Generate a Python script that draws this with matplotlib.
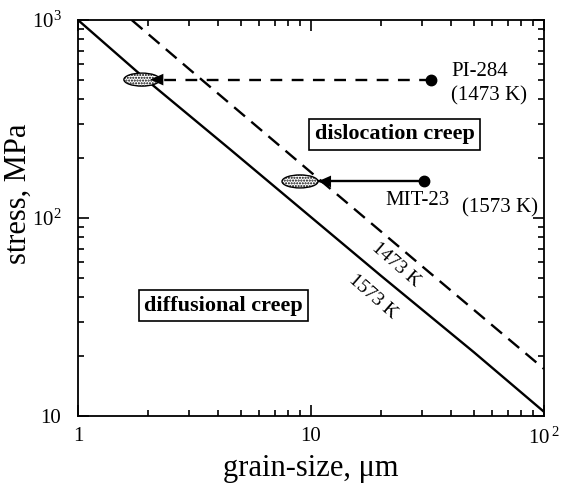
import matplotlib
matplotlib.use('Agg')
import matplotlib.pyplot as plt
from matplotlib.patches import Ellipse
from matplotlib.transforms import ScaledTranslation
from matplotlib.ticker import LogLocator, FixedLocator, FixedFormatter, NullFormatter

plt.rcParams['font.family'] = ['Liberation Serif', 'DejaVu Serif']
plt.rcParams['mathtext.fontset'] = 'custom'
plt.rcParams['mathtext.rm'] = 'Liberation Serif'
plt.rcParams['hatch.linewidth'] = 1.0

d_1573 = [1.0, 2.0, 4.5, 10.0, 20.0, 50.0, 100.0]
s_1573 = [1000, 490, 222, 101, 51, 21, 10.5]
d_1473 = [1.7, 3.0, 10.0, 30.0, 100.0]
s_1473 = [1000, 565, 170, 57, 17.3]

# samples: measured point -> inferred grain size (ellipse)
samples = ['PI-284', 'MIT-23']
start_d = [32.6, 30.5]
end_d = [1.88, 8.97]
tip_d = [2.04, 10.7]
stress = [500, 153]
styles = ['--', '-']

x_ticks = [1, 10, 100]
x_labels = ['1', '10', r'$\mathregular{10^{\,2}}$']
y_ticks = [10, 100, 1000]
y_labels = ['10', r'$\mathregular{10^{2}}$', r'$\mathregular{10^{3}}$']

fig = plt.figure(figsize=(5.61, 4.88), dpi=100)
ax = fig.add_axes([78/561, 72/488, 466/561, 396/488])
ax.set_xscale('log')
ax.set_yscale('log')
ax.set_xlim(1, 100)
ax.set_ylim(10, 1000)

ax.plot(d_1573, s_1573, color='k', lw=1.7)
ax.plot(d_1473, s_1473, color='k', lw=1.7, ls=(0, (6, 3.5)))

for i in range(len(samples)):
    ls = (0, (5, 4)) if styles[i] == '--' else '-'
    ax.plot([start_d[i], tip_d[i]], [stress[i], stress[i]], color='k', lw=1.7, ls=ls)
    ax.plot(start_d[i], stress[i], 'o', color='k', ms=7.5)
    tr = fig.dpi_scale_trans + ScaledTranslation(end_d[i], stress[i], ax.transData)
    ax.add_patch(Ellipse((0, 0), 0.36, 0.13, transform=tr, facecolor='white',
                         edgecolor='k', hatch='......', lw=1.0, zorder=3))
    ax.annotate('', xy=(tip_d[i], stress[i]), xytext=(10, 0), textcoords='offset points',
                arrowprops=dict(arrowstyle='-|>,head_length=0.95,head_width=0.42',
                                color='k', lw=0, shrinkA=0, shrinkB=0, mutation_scale=10),
                zorder=4)

ax.text(39.9, 552, 'PI-284', fontsize=15, ha='left', va='center')
ax.text(39.9, 413, '(1473 K)', fontsize=15, ha='left', va='center')
ax.text(20.8, 123, 'MIT-23', fontsize=15, ha='left', va='center')
ax.text(44.5, 112, '(1573 K)', fontsize=15, ha='left', va='center', clip_on=False)

box = dict(boxstyle='square,pad=0.25', fc='white', ec='k', lw=1.2)
ax.text(22.9, 265, 'dislocation creep', fontsize=16, fontweight='bold', ha='center',
        va='center', bbox=box)
ax.text(4.21, 36.1, 'diffusional creep', fontsize=16, fontweight='bold', ha='center',
        va='center', bbox=box)

ax.text(23.2, 58, '1473 K', fontsize=14, rotation=-41, ha='center', va='center',
        rotation_mode='anchor')
ax.text(18.5, 39.9, '1573 K', fontsize=14, rotation=-41, ha='center', va='center',
        rotation_mode='anchor')

ax.xaxis.set_major_locator(FixedLocator(x_ticks))
ax.xaxis.set_major_formatter(FixedFormatter(x_labels))
ax.yaxis.set_major_locator(FixedLocator(y_ticks))
ax.yaxis.set_major_formatter(FixedFormatter(y_labels))
ax.xaxis.set_minor_locator(LogLocator(base=10, subs=range(2, 10)))
ax.yaxis.set_minor_locator(LogLocator(base=10, subs=range(2, 10)))
ax.xaxis.set_minor_formatter(NullFormatter())
ax.yaxis.set_minor_formatter(NullFormatter())
ax.tick_params(which='both', direction='in', top=True, right=True, width=1.2)
ax.tick_params(which='major', length=8, labelsize=15)
ax.tick_params(axis='y', which='major', pad=12)
ax.tick_params(axis='x', which='major', pad=8)
ax.tick_params(which='minor', length=4.5)
for s in ax.spines.values():
    s.set_linewidth(1.3)

ax.set_xlabel('grain-size, μm', fontsize=22, labelpad=4)
ax.set_ylabel('stress, MPa', fontsize=22)
ax.yaxis.set_label_coords(-0.097, 0.56)

fig.savefig('out.png', dpi=100)
